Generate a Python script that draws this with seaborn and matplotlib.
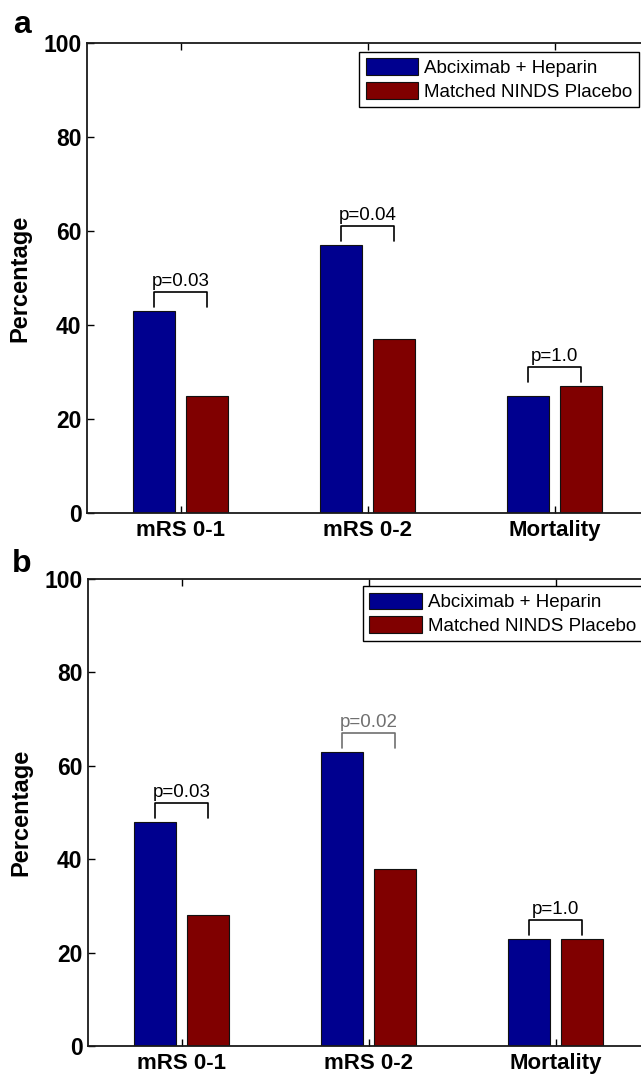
import pandas as pd
import matplotlib
matplotlib.use("Agg")
import matplotlib.pyplot as plt
import seaborn as sns

# categories and groups
categories = ["mRS 0-1", "mRS 0-2", "Mortality"]
groups = ["Abciximab + Heparin", "Matched NINDS Placebo"]

# panel a values (percent)
a_abcix = [43, 57, 25]
a_placebo = [25, 37, 27]
a_pvals = ["p=0.03", "p=0.04", "p=1.0"]

# panel b values (percent)
b_abcix = [48, 63, 23]
b_placebo = [28, 38, 23]
b_pvals = ["p=0.03", "p=0.02", "p=1.0"]

yticks = [0, 20, 40, 60, 80, 100]
colors = {"Abciximab + Heparin": "#00008f", "Matched NINDS Placebo": "#800000"}

sns.set_style("ticks")
plt.rcParams["font.family"] = ["Liberation Sans", "DejaVu Sans"]
plt.rcParams.update({"text.color": "black", "axes.labelcolor": "black",
                     "xtick.color": "black", "ytick.color": "black"})

fig = plt.figure(figsize=(6.41, 10.75), dpi=100)
ax_a = fig.add_axes([87 / 641, 1 - 513 / 1075, 561 / 641, 470 / 1075])
ax_b = fig.add_axes([88 / 641, 1 - 1046 / 1075, 561 / 641, 467 / 1075])


def draw_panel(ax, abcix, placebo, pvals, pcolors, leg_anchor):
    df = pd.DataFrame({
        "category": categories * 2,
        "group": [groups[0]] * 3 + [groups[1]] * 3,
        "value": abcix + placebo,
    })
    sns.barplot(data=df, x="category", y="value", hue="group",
                order=categories, hue_order=groups, palette=colors,
                saturation=1, width=0.56, gap=0.2, errorbar=None,
                edgecolor="#111111", linewidth=0.8, ax=ax)

    # significance brackets
    blue_bars, red_bars = ax.containers[0], ax.containers[1]
    for i, p in enumerate(pvals):
        b1, b2 = blue_bars[i], red_bars[i]
        x1 = b1.get_x() + b1.get_width() / 2
        x2 = b2.get_x() + b2.get_width() / 2
        top = max(abcix[i], placebo[i])
        ax.plot([x1, x1, x2, x2], [top + 0.8, top + 4, top + 4, top + 0.8],
                color=pcolors[i], lw=1.2)
        ax.text((x1 + x2) / 2, top + 4.5, p, ha="center", va="bottom",
                fontsize=13.5, color=pcolors[i])

    ax.set_xlim(-0.5, 2.5)
    ax.set_ylim(0, 100)
    ax.set_yticks(yticks)
    ax.set_xlabel("")
    ax.set_ylabel("Percentage", fontsize=17, fontweight="bold")
    ax.yaxis.set_label_coords(-0.1, 0.5)
    for s in ax.spines.values():
        s.set_visible(True)
        s.set_linewidth(1.3)
        s.set_color("#1a1a1a")
    ax.tick_params(direction="in", length=5, width=1, top=True, right=True,
                   labelsize=16.5, pad=4)
    ax.tick_params(axis="x", pad=5, labelsize=16)
    for lab in ax.get_xticklabels() + ax.get_yticklabels():
        lab.set_fontweight("bold")

    sns.move_legend(ax, "upper left", bbox_to_anchor=leg_anchor, title=None,
                    frameon=True, fancybox=False, framealpha=1,
                    fontsize=13.5, borderaxespad=0, borderpad=0.35,
                    handlelength=2.8, handleheight=1.0, handletextpad=0.3,
                    labelspacing=0.25)
    leg = ax.get_legend()
    leg.get_frame().set_edgecolor("black")
    leg.get_frame().set_linewidth(1.0)


draw_panel(ax_a, a_abcix, a_placebo, a_pvals, ["black", "black", "black"], (0.485, 0.981))
draw_panel(ax_b, b_abcix, b_placebo, b_pvals, ["black", "#707070", "black"], (0.49, 0.985))

fig.text(13 / 641, 1 - 33 / 1075, "a", fontsize=23, fontweight="bold", va="baseline")
fig.text(12 / 641, 1 - 572 / 1075, "b", fontsize=23, fontweight="bold", va="baseline")

fig.savefig("out.png", dpi=100)
